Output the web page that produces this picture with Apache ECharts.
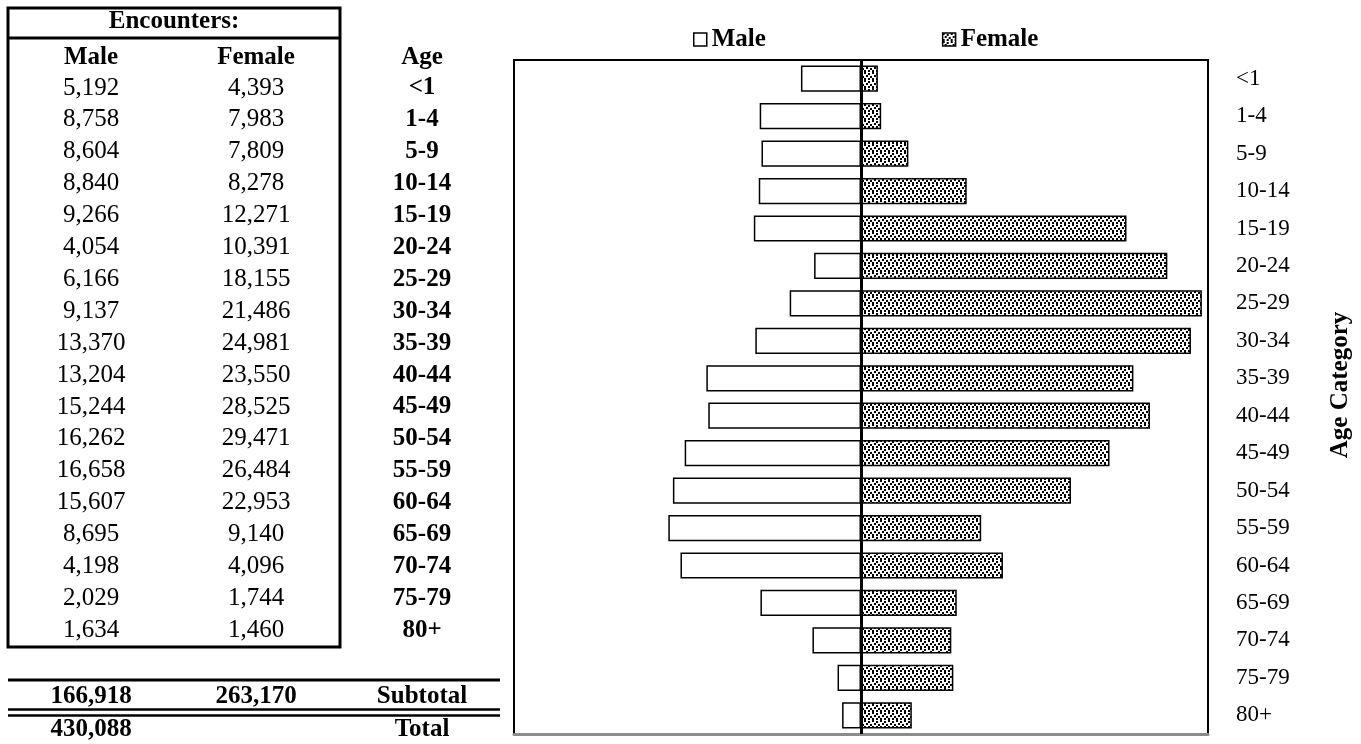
<!DOCTYPE html>
<html>
<head>
<meta charset="utf-8">
<script src="https://cdn.jsdelivr.net/npm/echarts@6/dist/echarts.min.js"></script>
<style>html,body{margin:0;padding:0;background:#fff}#main{width:1361px;height:744px}</style>
</head>
<body>
<div id="main"></div>
<script>
// ---- data ----
const ageGroups = ['<1','1-4','5-9','10-14','15-19','20-24','25-29','30-34','35-39','40-44','45-49','50-54','55-59','60-64','65-69','70-74','75-79','80+'];
const maleEncounters = [5192,8758,8604,8840,9266,4054,6166,9137,13370,13204,15244,16262,16658,15607,8695,4198,2029,1634];
const femaleEncounters = [4393,7983,7809,8278,12271,10391,18155,21486,24981,23550,28525,29471,26484,22953,9140,4096,1744,1460];
// bar lengths as drawn in the chart, top row to bottom row
const maleBarValues = [5192,8758,8604,8840,9266,4054,6166,9137,13370,13204,15244,16262,16658,15607,8695,4198,2029,1634];
const femaleBarValues = [1460,1744,4096,9140,22953,26484,29471,28525,23550,24981,21486,18155,10391,12271,8278,7809,7983,4393];
const tableTitle = 'Encounters:';
const tableHeaders = ['Male','Female','Age'];
const subtotalRow = ['166,918','263,170','Subtotal'];
const totalRow = ['430,088','','Total'];
const seriesNames = ['Male','Female'];
const axisTitle = 'Age Category';

// ---- helpers ----
const FONT = "'Liberation Serif','Times New Roman',serif";
function fmt(n){ return String(n).replace(/\B(?=(\d{3})+(?!\d))/g, ','); }
function makePattern(){
  const c = document.createElement('canvas'); c.width = 8; c.height = 8;
  const g = c.getContext('2d');
  g.fillStyle = '#fff'; g.fillRect(0,0,8,8);
  g.fillStyle = '#000';
  [[0,0],[4,1],[2,3],[6,4],[0,6],[4,6]].forEach(function(p){ g.fillRect(p[0],p[1],2,2); });
  return c;
}
function txt(s, x, y, bold){
  return {type:'text', x:x, y:y, silent:true, style:{text:s, fill:'#000',
    font:(bold?'bold ':'') + '25px ' + FONT,
    align:'center', verticalAlign:'middle', textAlign:'center', textVerticalAlign:'middle'}};
}

const colX = [91, 256, 422];
const rowY0 = 88, rowStep = 31.9;
const graphic = [];
graphic.push({type:'rect', silent:true, shape:{x:8,y:8,width:332,height:639}, style:{fill:'none',stroke:'#000',lineWidth:3}});
graphic.push({type:'line', silent:true, shape:{x1:8,y1:38,x2:340,y2:38}, style:{stroke:'#000',lineWidth:3}});
graphic.push(txt(tableTitle, 174, 22, true));
tableHeaders.forEach(function(h,i){ graphic.push(txt(h, colX[i], 58, true)); });
ageGroups.forEach(function(a,i){
  const y = rowY0 + i*rowStep;
  graphic.push(txt(fmt(maleEncounters[i]), colX[0], y, false));
  graphic.push(txt(fmt(femaleEncounters[i]), colX[1], y, false));
  graphic.push(txt(a, colX[2], y, true));
});
graphic.push({type:'line', silent:true, shape:{x1:8,y1:680,x2:500,y2:680}, style:{stroke:'#000',lineWidth:3}});
graphic.push({type:'line', silent:true, shape:{x1:8,y1:709.5,x2:500,y2:709.5}, style:{stroke:'#000',lineWidth:2.5}});
graphic.push({type:'line', silent:true, shape:{x1:8,y1:715.5,x2:500,y2:715.5}, style:{stroke:'#000',lineWidth:2.5}});
subtotalRow.forEach(function(s,i){ if(s) graphic.push(txt(s, colX[i], 697, true)); });
totalRow.forEach(function(s,i){ if(s) graphic.push(txt(s, colX[i], 730, true)); });

const chart = echarts.init(document.getElementById('main'));
chart.setOption({
  animation:false,
  backgroundColor:'#fff',
  graphic: graphic,
  legend:{
    data: seriesNames, left:688, top:22, icon:'rect', itemWidth:13, itemHeight:13, itemGap:176,
    itemStyle:{borderColor:'#000', borderWidth:1.5},
    textStyle:{fontFamily:FONT, fontWeight:'bold', fontSize:25, color:'#000'}
  },
  grid:{left:514, right:152, top:60, bottom:10, show:true, borderColor:'#000', borderWidth:2, backgroundColor:'transparent'},
  xAxis:{
    type:'value', min:-30000, max:30000,
    axisLabel:{show:false}, axisTick:{show:false}, splitLine:{show:false},
    axisLine:{show:true, onZero:false, lineStyle:{color:'#8c8c8c', width:3}}
  },
  yAxis:{
    type:'category', data:ageGroups, inverse:true, position:'right',
    axisLine:{show:false}, axisTick:{show:false}, splitLine:{show:false},
    axisLabel:{margin:28, fontSize:23, fontFamily:FONT, color:'#000', align:'left', padding:[0,0,4,0]},
    name:axisTitle, nameLocation:'middle', nameRotate:90, nameGap:120,
    nameTextStyle:{fontFamily:FONT, fontWeight:'bold', fontSize:25, color:'#000', padding:[0,0,0,24]}
  },
  series:[
    {name:seriesNames[0], type:'bar', data:maleBarValues.map(function(v){return -v;}),
     barWidth:'70%', barGap:'-100%',
     itemStyle:{color:'#fff', borderColor:'#000', borderWidth:1.5}},
    {name:seriesNames[1], type:'bar', data:femaleBarValues, z:3,
     barWidth:'70%', barGap:'-100%',
     itemStyle:{color:{image:makePattern(), repeat:'repeat'}, borderColor:'#000', borderWidth:1.5},
     markLine:{silent:true, symbol:['none','none'], label:{show:false}, z:10,
       lineStyle:{color:'#000', width:3, type:'solid'}, data:[{xAxis:0}]}}
  ]
});
</script>
</body>
</html>
